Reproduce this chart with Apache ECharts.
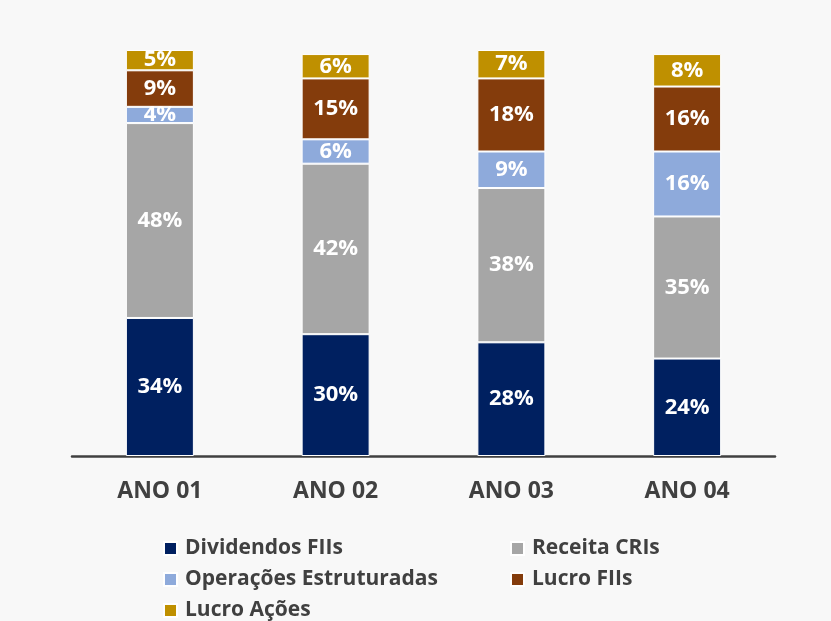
<!DOCTYPE html>
<html>
<head>
<meta charset="utf-8">
<script src="https://cdn.jsdelivr.net/npm/echarts@6/dist/echarts.min.js"></script>
<style>
  html, body { margin: 0; padding: 0; background: #f8f8f8; }
  #chart { width: 831px; height: 621px; }
</style>
</head>
<body>
<div id="chart"></div>
<script>
// Categories and composition (%) of each year's result
const categories = ['ANO 01', 'ANO 02', 'ANO 03', 'ANO 04'];
const dividendosFIIs = [34, 30, 28, 24];
const receitaCRIs = [48, 42, 38, 35];
const operacoesEstruturadas = [4, 6, 9, 16];
const lucroFIIs = [9, 15, 18, 16];
const lucroAcoes = [5, 6, 7, 8];

const seriesDefs = [
  { name: 'Dividendos FIIs', data: dividendosFIIs, color: '#002060' },
  { name: 'Receita CRIs', data: receitaCRIs, color: '#a6a6a6' },
  { name: 'Operações Estruturadas', data: operacoesEstruturadas, color: '#8eaadb' },
  { name: 'Lucro FIIs', data: lucroFIIs, color: '#843c0c' },
  { name: 'Lucro Ações', data: lucroAcoes, color: '#bf9000' }
];

const font = '"Open Sans", "DejaVu Sans", sans-serif';
const legendText = { fontFamily: font, fontSize: 21, color: '#404040', fontWeight: 'bold', lineHeight: 20, padding: [0, 0, 0, 3] };

const chart = echarts.init(document.getElementById('chart'));
chart.setOption({
  backgroundColor: '#f8f8f8',
  animation: false,
  grid: { left: 72, right: 56, top: 50, bottom: 165 },
  legend: [
    {
      data: ['Dividendos FIIs', 'Operações Estruturadas', 'Lucro Ações'],
      orient: 'vertical', left: 158, top: 533, height: 90,
      itemWidth: 13, itemHeight: 13, itemGap: 10, icon: 'rect',
      textStyle: legendText
    },
    {
      data: ['Receita CRIs', 'Lucro FIIs'],
      orient: 'vertical', left: 505, top: 533, height: 90,
      itemWidth: 13, itemHeight: 13, itemGap: 10, icon: 'rect',
      textStyle: legendText
    }
  ],
  xAxis: {
    type: 'category',
    data: categories,
    axisLine: { lineStyle: { color: '#404040', width: 2.5 } },
    axisTick: { show: false },
    axisLabel: { fontFamily: font, fontSize: 23, fontWeight: 'bold', color: '#404040', margin: 24 }
  },
  yAxis: {
    type: 'value', min: 0, max: 100, show: false,
    splitLine: { show: false }
  },
  series: seriesDefs.map(s => ({
    name: s.name,
    type: 'bar',
    stack: 'total',
    barWidth: 68,
    data: s.data,
    itemStyle: { color: s.color, borderColor: '#ffffff', borderWidth: 1 },
    label: {
      show: true,
      position: 'inside',
      formatter: '{c}%',
      fontFamily: font,
      fontSize: 22,
      fontWeight: 'bold',
      color: '#ffffff'
    }
  }))
});
</script>
</body>
</html>
